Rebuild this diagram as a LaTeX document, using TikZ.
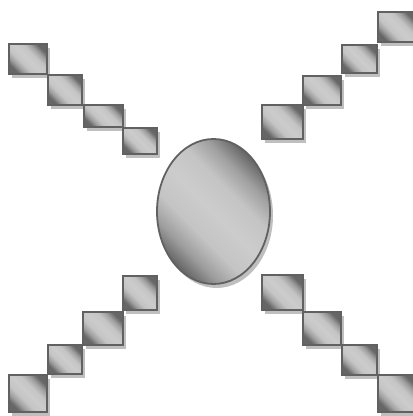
\documentclass[tikz,border=0pt]{standalone}
\usetikzlibrary{shadows}

\pgfdeclareverticalshading{biais}{100bp}{color(0bp)=(black!60); color(25bp)=(black!60); color(32bp)=(black!38); color(40bp)=(black!23); color(50bp)=(black!20); color(60bp)=(black!23); color(68bp)=(black!38); color(75bp)=(black!60); color(100bp)=(black!60)}

\tikzset{
  bloc/.style={
    draw=black!62, line width=1.8pt,
    shading=biais, shading angle=-45,
    drop shadow={shadow xshift=3pt, shadow yshift=-4pt,
      fill=black!25, opacity=1}
  }
}

\begin{document}
\begin{tikzpicture}[x=1pt,y=1pt]

\useasboundingbox (0,0) rectangle (413,416);

% Haut gauche
\foreach \xa/\ya/\xb/\yb in {
9/372/47/342,
48/341/82/311,
84/311/123/289,
123/288/157/262
}
{
\draw[bloc] (\xa,\ya) rectangle (\xb,\yb);
}

% Haut droite
\foreach \xa/\ya/\xb/\yb in {
378/404/416/374,
342/371/377/343,
303/340/341/311,
262/311/303/277
}
{
\draw[bloc] (\xa,\ya) rectangle (\xb,\yb);
}

% Bas gauche
\foreach \xa/\ya/\xb/\yb in {
123/140/157/106,
83/104/123/71,
48/71/82/42,
9/41/47/4
}
{
\draw[bloc] (\xa,\ya) rectangle (\xb,\yb);
}

% Bas droite
\foreach \xa/\ya/\xb/\yb in {
262/141/303/106,
303/104/341/71,
342/71/377/41,
378/41/416/4
}
{
\draw[bloc] (\xa,\ya) rectangle (\xb,\yb);
}

% Centre
\draw[bloc] (213.5,204.5) ellipse (56.5 and 72.5);

\end{tikzpicture}
\end{document}
